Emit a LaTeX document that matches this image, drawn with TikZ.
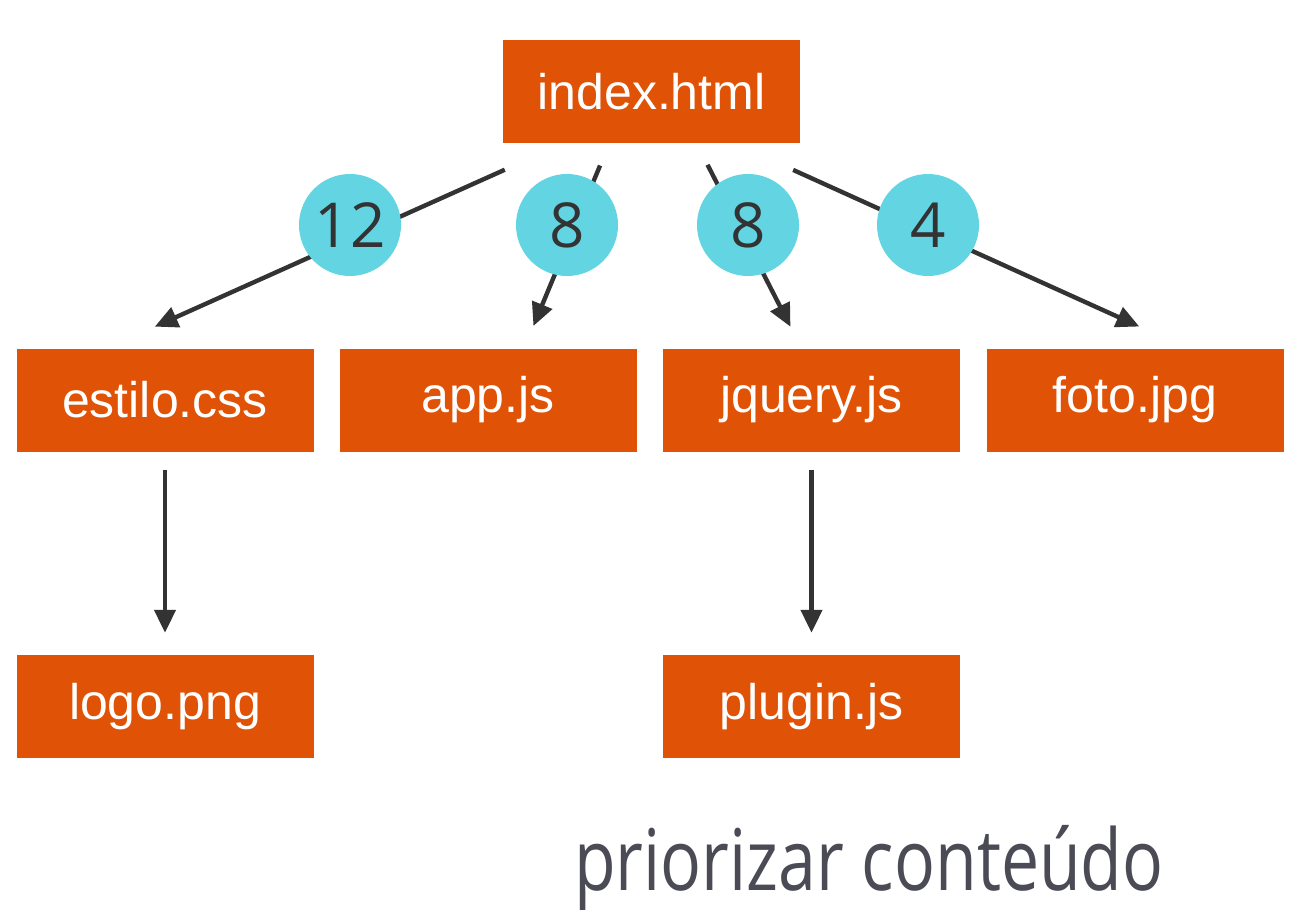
\documentclass[tikz,border=0pt]{standalone}
\usepackage{fontspec}
\setsansfont{Liberation Sans}
\newfontfamily\numfont{Open Sans}
\newfontfamily\captionfont[FakeStretch=0.8]{Open Sans}
\usetikzlibrary{arrows.meta,calc}
\definecolor{boxorange}{HTML}{E05206}
\definecolor{badgecyan}{HTML}{62D4E2}
\definecolor{linegray}{HTML}{333333}
\definecolor{captiongray}{HTML}{4A4B55}

\begin{document}
\begin{tikzpicture}[x=0.5pt,y=-0.5pt,>={Triangle[length=11.5pt,width=10.5pt]},
        line width=2.2pt,draw=linegray,
        file node/.style={rectangle,fill=boxorange,text=white,minimum width=148.5pt,
            minimum height=51.5pt,inner sep=0pt,font=\sffamily\fontsize{25}{30}\selectfont},
        count node/.style={circle,fill=badgecyan,text=linegray,minimum size=51pt,
            inner sep=0pt,font=\numfont\fontsize{31}{36}\selectfont}]
    \useasboundingbox[fill=white] (0,0) rectangle (1298,910);
    % files
    \node[file node] (index) at (651.5,91.5) {index.html};
    \node[file node] (estilo) at (165,400) {estilo.css};
    \node[file node] (app) at (488,400) {app.js};
    \node[file node] (jquery) at (811.5,400) {jquery.js};
    \node[file node] (foto) at (1135,400) {foto.jpg};
    \node[file node] (logo) at (165,706.5) {logo.png};
    \node[file node] (plugin) at (811.5,706.5) {plugin.js};
    % requests
    \draw[->,shorten <=30pt,shorten >=24pt] ($(index.south)+(-92,0)$) -- ($(estilo.north)+(-54,0)$);
    \draw[->,shorten <=11pt,shorten >=11pt] ($(index.south)+(-43,0)$) -- ($(app.north)+(37,0)$);
    \draw[->,shorten <=11pt,shorten >=11pt] ($(index.south)+(46,0)$) -- ($(jquery.north)+(-11,0)$);
    \draw[->,shorten <=30pt,shorten >=24pt] ($(index.south)+(87,0)$) -- ($(foto.north)+(48,0)$);
    \draw[->,shorten <=8pt,shorten >=10pt] (estilo.south) -- (logo.north);
    \draw[->,shorten <=8pt,shorten >=10pt] (jquery.south) -- (plugin.north);
    % counts
    \node[count node] (c1) at (350,225) {12};
    \node[count node] (c2) at (567,225) {8};
    \node[count node] (c3) at (748,225) {8};
    \node[count node] (c4) at (928,225) {4};
    \node[anchor=base west,inner sep=0pt,text=captiongray,
        font=\captionfont\fontsize{42.5}{45}\selectfont] (caption) at (572,890) {priorizar conteúdo};
\end{tikzpicture}
\end{document}
